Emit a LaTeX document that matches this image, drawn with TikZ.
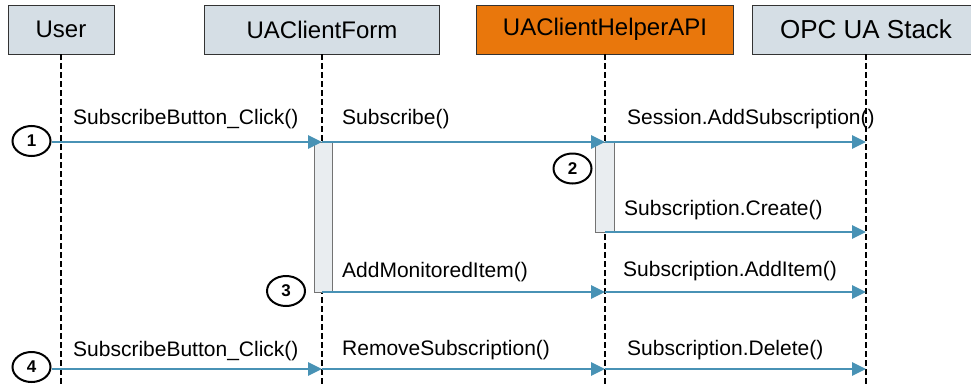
\documentclass[tikz,border=0pt]{standalone}
\usepackage{fontspec}
\setmainfont{Liberation Sans}
\usetikzlibrary{arrows.meta,shapes.geometric}
\definecolor{hdrfill}{RGB}{213,222,229}
\definecolor{apiorange}{RGB}{233,119,12}
\definecolor{msgblue}{RGB}{72,146,181}
\definecolor{barfill}{RGB}{233,237,240}
\begin{document}
\begin{tikzpicture}[x=1pt,y=-1pt,
  actor/.style={draw=black!80, line width=0.8pt, fill=hdrfill, minimum height=49pt,
    inner sep=0pt, font=\fontsize{24}{28}\selectfont},
  lifeline/.style={line width=1.9pt, dash pattern=on 6pt off 3pt},
  msg/.style={draw=msgblue, line width=2.6pt, -{Triangle[length=14pt,width=13pt,fill=msgblue]}},
  lbl/.style={anchor=base west, inner sep=0pt, font=\fontsize{21}{25}\selectfont},
  actbar/.style={draw=black!55, line width=0.8pt, fill=barfill, inner sep=0pt},
  stepmark/.style={ellipse, draw=black, line width=2pt, fill=white, minimum width=38pt,
    minimum height=30pt, inner sep=0pt, font=\fontsize{17}{20}\selectfont\bfseries}
]
\useasboundingbox (0,0) rectangle (971,383);

% participants
\node[actor, minimum width=106pt] (user) at (61,29.5) {User};
\node[actor, minimum width=235pt] (form) at (322,29.5) {UAClientForm};
\node[actor, minimum width=257pt, fill=apiorange] (api) at (605,29.5) {UAClientHelperAPI};
\node[actor, minimum width=228pt, font=\fontsize{26}{30}\selectfont] (stack) at (866,29.5) {OPC UA Stack};

% lifelines
\coordinate (bottom) at (0,392);
\foreach \p in {user,form,api,stack}
  \draw[lifeline] (\p.south) -- (\p.south |- bottom);

% activation bars
\node[actbar, minimum width=18pt, minimum height=150pt] (formbar) at (323,217) {};
\node[actbar, minimum width=19pt, minimum height=90pt] (apibar) at (604.5,187) {};

% message anchor points on the lifelines
\foreach \r/\y in {a/142,b/232,c/292,d/369} {
  \coordinate (user-\r) at (user.south |- 0,\y);
  \coordinate (form-\r) at (form.south |- 0,\y);
  \coordinate (api-\r) at (api.south |- 0,\y);
  \coordinate (stack-\r) at (stack.south |- 0,\y);
}

% step markers
\node[stepmark] (s1) at (31.5,141) {1};
\node[stepmark] (s2) at (572.5,168.5) {2};
\node[stepmark] (s3) at (286,291) {3};
\node[stepmark] (s4) at (31.5,367) {4};

% messages
\draw[msg] (s1.east |- form-a) -- (form-a);
\draw[msg] (form-a) -- (api-a);
\draw[msg] (api-a) -- (stack-a);
\draw[msg] (api-b) -- (stack-b);
\draw[msg] (form-c) -- (api-c);
\draw[msg] (api-c) -- (stack-c);
\draw[msg] (s4.east |- form-d) -- (form-d);
\draw[msg] (form-d) -- (api-d);
\draw[msg] (api-d) -- (stack-d);

% message labels
\node[lbl] (l1) at (73,124) {SubscribeButton\_Click()};
\node[lbl] (l2) at (342,124) {Subscribe()};
\node[lbl] (l3) at (627,124) {Session.AddSubscription()};
\node[lbl] (l4) at (624,215) {Subscription.Create()};
\node[lbl] (l5) at (342,277) {AddMonitoredItem()};
\node[lbl] (l6) at (623,276) {Subscription.AddItem()};
\node[lbl] (l7) at (73,356) {SubscribeButton\_Click()};
\node[lbl] (l8) at (342,355) {RemoveSubscription()};
\node[lbl] (l9) at (627,355) {Subscription.Delete()};
\end{tikzpicture}
\end{document}
